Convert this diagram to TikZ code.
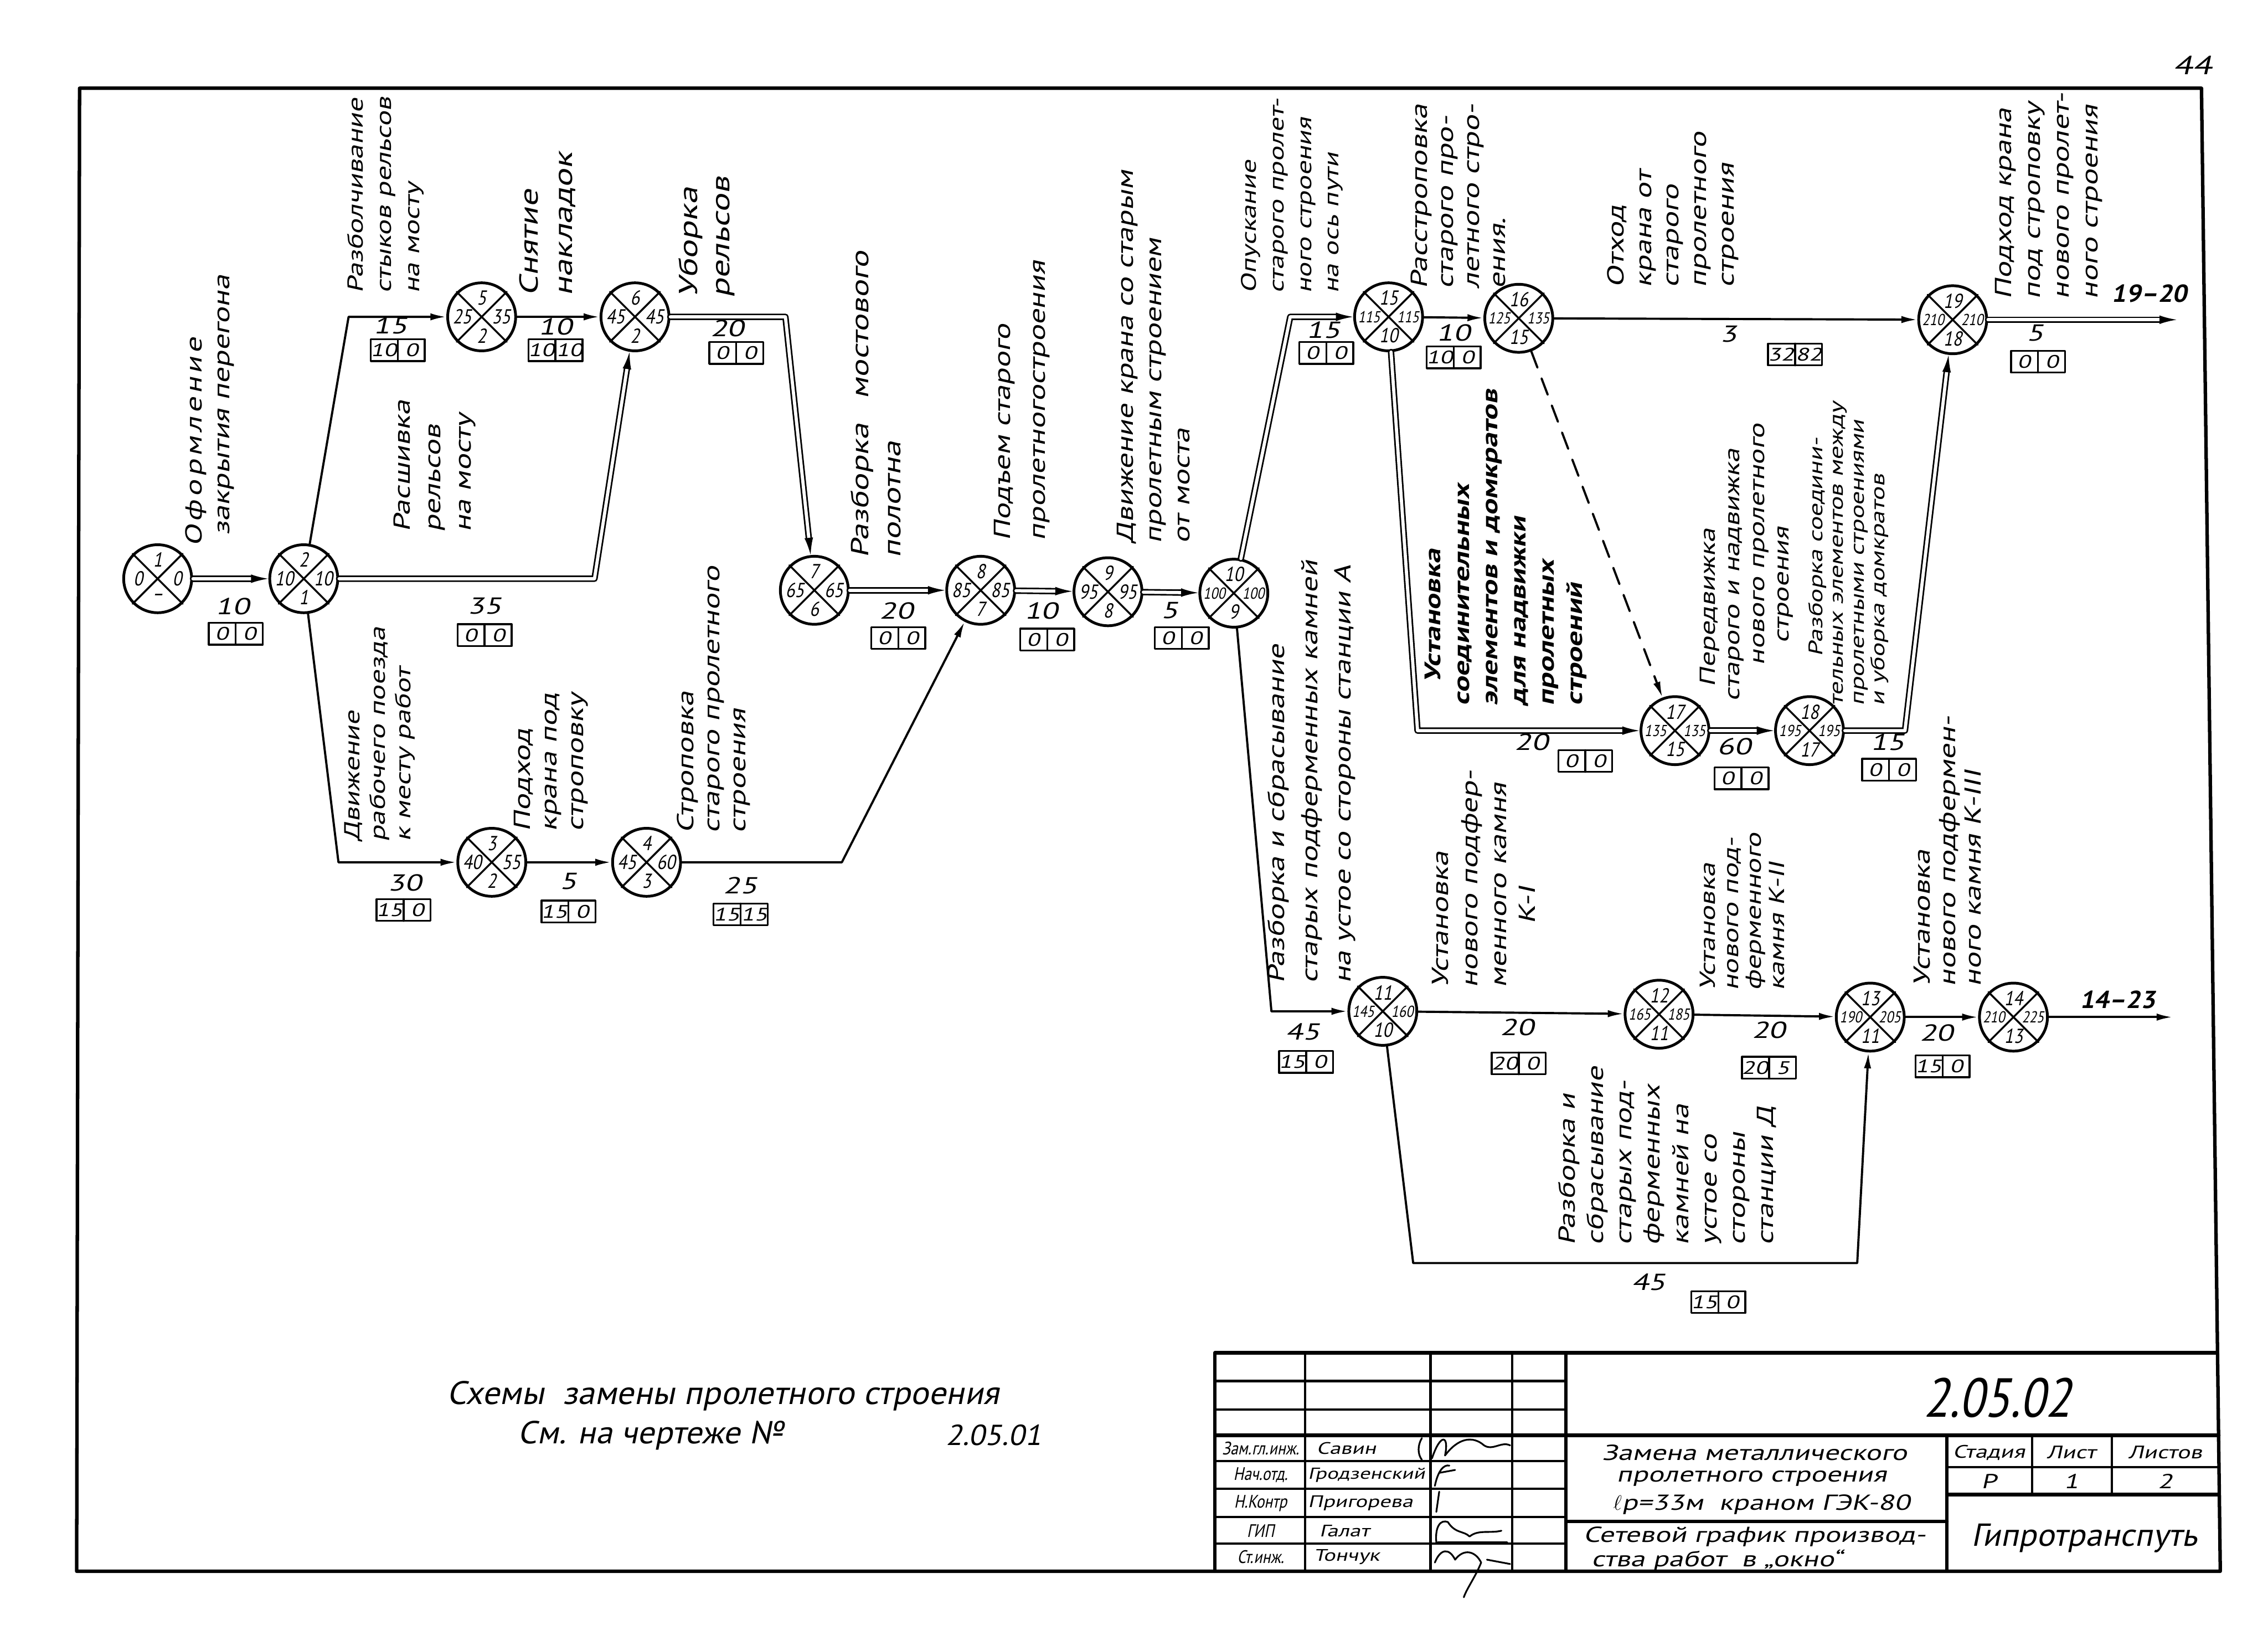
\documentclass[tikz,border=0pt]{standalone}
\usepackage{fontspec}
\newfontfamily\hand{PT Sans}[FakeSlant=0.22,FakeStretch=1.35]
\newfontfamily\plate{PT Sans}[FakeSlant=0.2,FakeStretch=1.05]
\newfontfamily\gost{PT Sans}[FakeSlant=0.2,FakeStretch=0.85]
\usetikzlibrary{arrows.meta,shapes.multipart}
\newcommand\cells[2]{\makebox[15pt]{#1}\nodepart{two}\makebox[15pt]{#2}}
\newcommand\sm{\fontsize{11}{11}\selectfont}

\begin{document}
\begin{tikzpicture}[x=1pt, y=-1pt, line cap=round, line join=round,
  ev/.style={circle, draw, line width=1.9pt, minimum size=47pt, inner sep=0pt},
  num/.style={inner sep=0pt, font=\gost\fontsize{14}{14}\selectfont},
  act/.style={line width=1.5pt, -{Latex[length=11pt,width=5pt]}},
  crit/.style={double, double distance=2.2pt, line width=1.1pt, -{Latex[length=12pt,width=6pt]}},
  dur/.style={inner sep=0pt, font=\hand\fontsize{16}{16}\selectfont},
  slack/.style={rectangle split, rectangle split horizontal, rectangle split parts=2,
    draw, line width=1.3pt, inner xsep=1.5pt, inner ysep=3pt, font=\hand\fontsize{12.5}{12.5}\selectfont},
  lbl/.style={rotate=90, anchor=north west, align=left, inner sep=0pt, font=\hand\fontsize{16}{19}\selectfont},
  tb/.style={inner sep=0pt, font=\hand\fontsize{14}{14}\selectfont},
  contmark/.style={inner sep=0pt, font=\plate\bfseries\fontsize{17}{17}\selectfont},
  thick line/.style={line width=2.4pt},
  thin line/.style={line width=1.6pt}]
\useasboundingbox (0,0) rectangle (1568,1123);

% sheet frame
\draw[thick line] (55,61) -- (1522,61) -- (1535,1086) -- (53,1086) -- cycle;
\node[inner sep=0pt, font=\hand\fontsize{18}{18}\selectfont] (page) at (1516,45) {44};

% events: number / early / late / predecessor
\foreach \n/\pp/\nt/\nl/\nr/\nb in {
  1/{109,400}/1/0/0/–, 2/{210,400}/2/10/10/1,
  3/{340,596}/3/40/55/2, 4/{447,596}/4/45/60/3,
  5/{333,219}/5/25/35/2, 6/{439,219}/6/45/45/2,
  7/{563,408}/7/65/65/6, 8/{678,408}/8/85/85/7,
  9/{766,409}/9/95/95/8, 10/{853,410}/10/\sm 100/\sm 100/9,
  11/{956,699}/11/\sm 145/\sm 160/10, 12/{1147,701}/12/\sm 165/\sm 185/11,
  13/{1293,703}/13/\sm 190/\sm 205/11, 14/{1392,703}/14/\sm 210/\sm 225/13,
  15/{960,219}/15/\sm 115/\sm 115/10, 16/{1050,220}/16/\sm 125/\sm 135/15,
  17/{1158,505}/17/\sm 135/\sm 135/15, 18/{1251,505}/18/\sm 195/\sm 195/17,
  19/{1350,221}/19/\sm 210/\sm 210/18}
{
  \node[ev] (n\n) at (\pp) {};
  \draw[line width=1.3pt] (n\n.north west) -- (n\n.south east) (n\n.north east) -- (n\n.south west);
  \node[num] (t\n) at ([yshift=13pt]n\n.center) {\nt};
  \node[num] (l\n) at ([xshift=-13.5pt]n\n.center) {\nl};
  \node[num] (r\n) at ([xshift=13.5pt]n\n.center) {\nr};
  \node[num] (b\n) at ([yshift=-13pt]n\n.center) {\nb};
}

% bends of the connectors
\coordinate (c25) at (241,219);
\coordinate (c26) at (411,400);
\coordinate (c67) at (543,219);
\coordinate (c23) at (234,596);
\coordinate (c48) at (582,596);
\coordinate (c1015) at (892,219);
\coordinate (c1517) at (980,505);
\coordinate (c1819) at (1317,505);
\coordinate (c1011) at (879,699);
\coordinate (c1113a) at (977,873);
\coordinate (c1113b) at (1284,873);
\coordinate (o19) at (1505,221);
\coordinate (o14) at (1502,703);

% critical path
\draw[crit] (n1) -- (n2);
\draw[crit] (n2) -- (c26) -- (n6);
\draw[crit] (n6) -- (c67) -- (n7);
\draw[crit] (n7) -- (n8);
\draw[crit] (n8) -- (n9);
\draw[crit] (n9) -- (n10);
\draw[crit] (n10) -- (c1015) -- (n15);
\draw[crit] (n15) -- (c1517) -- (n17);
\draw[crit] (n17) -- (n18);
\draw[crit] (n18) -- (c1819) -- (n19);
\draw[crit] (n19) -- (o19);
% other works
\draw[act] (n2) -- (c25) -- (n5);
\draw[act] (n5) -- (n6);
\draw[act] (n2) -- (c23) -- (n3);
\draw[act] (n3) -- (n4);
\draw[act] (n4) -- (c48) -- (n8);
\draw[act] (n15) -- (n16);
\draw[act] (n16) -- (n19);
\draw[act, dash pattern=on 12pt off 8pt] (n16) -- (n17);
\draw[act] (n10) -- (c1011) -- (n11);
\draw[act] (n11) -- (n12);
\draw[act] (n12) -- (n13);
\draw[act] (n13) -- (n14);
\draw[act] (n14) -- (o14);
\draw[act] (n11) -- (c1113a) -- (c1113b) -- (n13);

% durations and reserves
\foreach \e/\pd/\du/\pb/\xa/\xb in {
  12/{161,419}/10/{163,438}/0/0, 25/{270,225}/15/{275,242}/10/0,
  56/{384,226}/10/{384,242}/10/10, 26/{335,419}/35/{335,439}/0/0,
  67/{503,227}/20/{509,244}/0/0, 23/{280,610}/30/{279,629}/15/0,
  34/{393,609}/5/{393,630}/15/0, 48/{512,612}/25/{512,632}/15/15,
  78/{620,422}/20/{621,441}/0/0, 89/{720,422}/10/{724,442}/0/0,
  910/{809,422}/5/{817,441}/0/0, 1015/{915,228}/15/{917,244}/0/0,
  1516/{1005,230}/10/{1005,247}/10/0, 1619/{1195,231}/3/{1241,245}/32/82,
  19x/{1407,230}/5/{1409,250}/0/0, 1517/{1059,513}/20/{1096,526}/0/0,
  1718/{1199,516}/60/{1204,538}/0/0, 1819/{1305,513}/15/{1306,532}/0/0,
  1011/{901,713}/45/{903,734}/15/0, 1112/{1049,710}/20/{1050,735}/20/0,
  1213/{1223,712}/20/{1223,738}/20/5, 1314/{1339,714}/20/{1343,737}/15/0,
  1113/{1140,886}/45/{1188,900}/15/0}
{
  \node[dur] (d\e) at (\pd) {\du};
  \node[slack] (s\e) at (\pb) {\cells{\xa}{\xb}};
}

% names of the works
\node[lbl] (a12) at (128,378) {\addfontfeature{LetterSpace=15}Оформление\\\addfontfeature{LetterSpace=0}\hspace*{8pt}закрытия перегона};
\node[lbl, font=\hand\fontsize{15}{19.5}\selectfont] (a25) at (240,203) {Разболчивание\\стыков рельсов\\на мосту};
\node[lbl, font=\hand\fontsize{18}{23.5}\selectfont] (a56) at (359,205) {Снятие\\накладок};
\node[lbl, font=\hand\fontsize{18}{22}\selectfont] (a67) at (469,206) {Уборка\\рельсов};
\node[lbl, font=\hand\fontsize{16}{21}\selectfont] (a26) at (272,368) {Расшивка\\рельсов\\на мосту};
\node[lbl, font=\hand\fontsize{15}{17.5}\selectfont] (a23) at (238,582) {Движение\\рабочего поезда\\к месту работ};
\node[lbl, font=\hand\fontsize{16}{18.5}\selectfont] (a34) at (355,575) {Подход\\крана под\\строповку};
\node[lbl, font=\hand\fontsize{16}{18}\selectfont] (a48) at (468,576) {Строповка\\старого пролетного\\строения};
\node[lbl, font=\hand\fontsize{17}{22}\selectfont] (a78) at (588,386) {Разборка\quad мостового\\полотна};
\node[lbl, font=\hand\fontsize{16}{24}\selectfont] (a89) at (687,374) {Подъем старого\\пролетногостроения};
\node[lbl, font=\hand\fontsize{16}{19.5}\selectfont] (a910) at (772,376) {Движение крана со старым\\пролетным строением\\от моста};
\node[lbl, font=\hand\fontsize{14.5}{19}\selectfont] (a1015) at (858,203) {Опускание\\старого пролет-\\ного строения\\на ось пути};
\node[lbl, font=\hand\fontsize{16}{18}\selectfont] (a1516) at (975,200) {Расстроповка\\старого про-\\летного стро-\\ения.};
\node[lbl] (a1619) at (1111,199) {Отход\\крана от\\старого\\пролетного\\строения};
\node[lbl, font=\hand\fontsize{16}{20}\selectfont] (a19) at (1379,207) {Подход крана\\под строповку\\нового пролет-\\ного строения};
\node[lbl, font=\hand\bfseries\fontsize{15.5}{19.6}\selectfont] (a1517) at (985,488) {\hspace*{16pt}Установка\\соединительных\\элементов и домкратов\\для надвижки\\пролетных\\строений};
\node[lbl, font=\hand\fontsize{15}{17}\selectfont] (a1718) at (1175,485) {\hspace*{10pt}Передвижка\\старого и надвижка\\\hspace*{25pt}нового пролетного\\\hspace*{40pt}строения};
\node[lbl, font=\hand\fontsize{13.5}{14.3}\selectfont] (a1819) at (1250,488) {\hspace*{34pt}Разборка соедини-\\тельных элементов между\\пролетными строениями\\и уборка домкратов};
\node[lbl, font=\hand\fontsize{16}{23}\selectfont] (a1011) at (876,680) {Разборка и сбрасывание\\старых подферменных камней\\на устое со стороны станции А};
\node[lbl, font=\hand\fontsize{16}{20}\selectfont] (a1112) at (990,683) {Установка\\нового подфер-\\менного камня\\\hspace*{44pt}К-I};
\node[lbl, font=\hand\fontsize{15}{16}\selectfont] (a1213) at (1175,685) {Установка\\нового под-\\ферменного\\камня К-II};
\node[lbl, font=\hand\fontsize{16}{17.5}\selectfont] (a1314) at (1323,682) {Установка\\нового подфермен-\\ного камня К-III};
\node[lbl, font=\hand\fontsize{16}{19.6}\selectfont] (a1113) at (1077,861) {Разборка и\\сбрасывание\\старых под-\\ферменных\\камней на\\устое со\\стороны\\станции Д};

% continuation marks
\node[contmark] (k19) at (1486,203) {19–20};
\node[contmark] (k14) at (1464,691) {14–23};

% note
\node[inner sep=0pt, font=\plate\fontsize{22.5}{22.5}\selectfont] (note1) at (500,965) {Схемы\ \ замены пролетного строения};
\node[inner sep=0pt, font=\plate\fontsize{22}{22}\selectfont] (note2) at (450,992) {См. на чертеже №};
\node[inner sep=0pt, font=\plate\fontsize{20}{20}\selectfont] (note3) at (687,992) {2.05.01};

% title block
\draw[thick line] (840,935) -- (1533,935);
\draw[thick line] (840,935) -- (840,1086);
\draw[thick line] (1082.6,935) -- (1082.6,1086);
\draw[thick line] (840,992) -- (1534,992);
\draw[thick line] (1346,992) -- (1346,1086);
\draw[thick line] (1346,1033) -- (1534,1033);
\draw[thick line] (1082.6,1051.5) -- (1346,1051.5);
\foreach \yy in {954.5,974.4,1010,1029,1048.5,1067}
  \draw[thin line] (840,\yy) -- (1082.6,\yy);
\foreach \xx in {902.4,989,1045.6}
  \draw[thin line] (\xx,935) -- (\xx,1086);
\draw[thin line] (1405,992) -- (1405,1033);
\draw[thin line] (1460,992) -- (1460,1033);
\draw[thin line] (1346,1014) -- (1534,1014);

\node[inner sep=0pt, font=\gost\fontsize{38}{38}\selectfont] (code) at (1381,966) {2.05.02};
\node[tb, font=\gost\fontsize{12.5}{12.5}\selectfont] (r1a) at (871.5,1001) {Зам.гл.инж.};
\node[tb, font=\gost\fontsize{12.5}{12.5}\selectfont] (r2a) at (871.5,1019.5) {Нач.отд.};
\node[tb, font=\gost\fontsize{12.5}{12.5}\selectfont] (r3a) at (871.5,1039) {Н.Контр};
\node[tb, font=\gost\fontsize{12.5}{12.5}\selectfont] (r4a) at (871.5,1058) {ГИП};
\node[tb, font=\gost\fontsize{12.5}{12.5}\selectfont] (r5a) at (871.5,1076) {Ст.инж.};
\node[tb, anchor=west, font=\hand\fontsize{11.5}{11.5}\selectfont] (r1b) at (910,1001) {Савин};
\node[tb, anchor=west, font=\hand\fontsize{11}{11}\selectfont] (r2b) at (904,1019.5) {Гродзенский};
\node[tb, anchor=west, font=\hand\fontsize{11.5}{11.5}\selectfont] (r3b) at (904,1039) {Пригорева};
\node[tb, anchor=west, font=\hand\fontsize{11.5}{11.5}\selectfont] (r4b) at (912,1058) {Галат};
\node[tb, anchor=west, font=\hand\fontsize{11.5}{11.5}\selectfont] (r5b) at (908,1076) {Тончук};
\node[tb, font=\hand\fontsize{15}{15}\selectfont] (m1) at (1213,1004) {Замена металлического};
\node[tb, font=\hand\fontsize{15}{15}\selectfont] (m2) at (1211,1022) {пролетного строения};
\node[tb, font=\hand\fontsize{15}{15}\selectfont] (m3) at (1218,1040) {$\ell$р=33м\ \ краном ГЭК-80};
\node[tb, font=\hand\fontsize{15}{15}\selectfont] (m4) at (1213,1062) {Сетевой график производ-};
\node[tb, font=\hand\fontsize{15}{15}\selectfont] (m5) at (1187,1078.5) {ства работ\ \ в „окно“};
\node[tb, font=\hand\fontsize{12.5}{12.5}\selectfont] (h1) at (1375,1004) {Стадия};
\node[tb, font=\hand\fontsize{12.5}{12.5}\selectfont] (h2) at (1432,1004) {Лист};
\node[tb, font=\hand\fontsize{12.5}{12.5}\selectfont] (h3) at (1497,1004) {Листов};
\node[tb] (v1) at (1375,1024) {Р};
\node[tb] (v2) at (1432,1024) {1};
\node[tb] (v3) at (1497,1024) {2};
\node[tb, font=\plate\fontsize{22}{22}\selectfont] (org) at (1441,1063) {Гипротранспуть};

% signatures
\draw[line width=1.2pt] (990,1008) .. controls (996,990) and (1002,992) .. (999,1006) .. controls (1008,994) and (1018,992) .. (1026,999) .. controls (1032,1003) and (1038,996) .. (1044,999);
\draw[line width=1.2pt] (983,994) .. controls (980,999) and (980,1005) .. (983,1009);
\draw[line width=1.2pt] (992,1027) .. controls (994,1017) and (998,1012) .. (1002,1013) (995,1018) -- (1006,1016);
\draw[line width=1.2pt] (993,1045) -- (995,1031);
\draw[line width=1.2pt] (993,1066) .. controls (992,1055) and (996,1050) .. (1001,1052) .. controls (1006,1060) and (1012,1058) .. (1016,1062) .. controls (1022,1057) and (1030,1060) .. (1038,1058) (994,1066) -- (1042,1066);
\draw[line width=1.2pt] (992,1080) .. controls (996,1070) and (1002,1070) .. (1006,1078) .. controls (1012,1070) and (1020,1072) .. (1024,1080) .. controls (1020,1090) and (1014,1098) .. (1012,1104) (1028,1078) -- (1044,1081);
\end{tikzpicture}
\end{document}
